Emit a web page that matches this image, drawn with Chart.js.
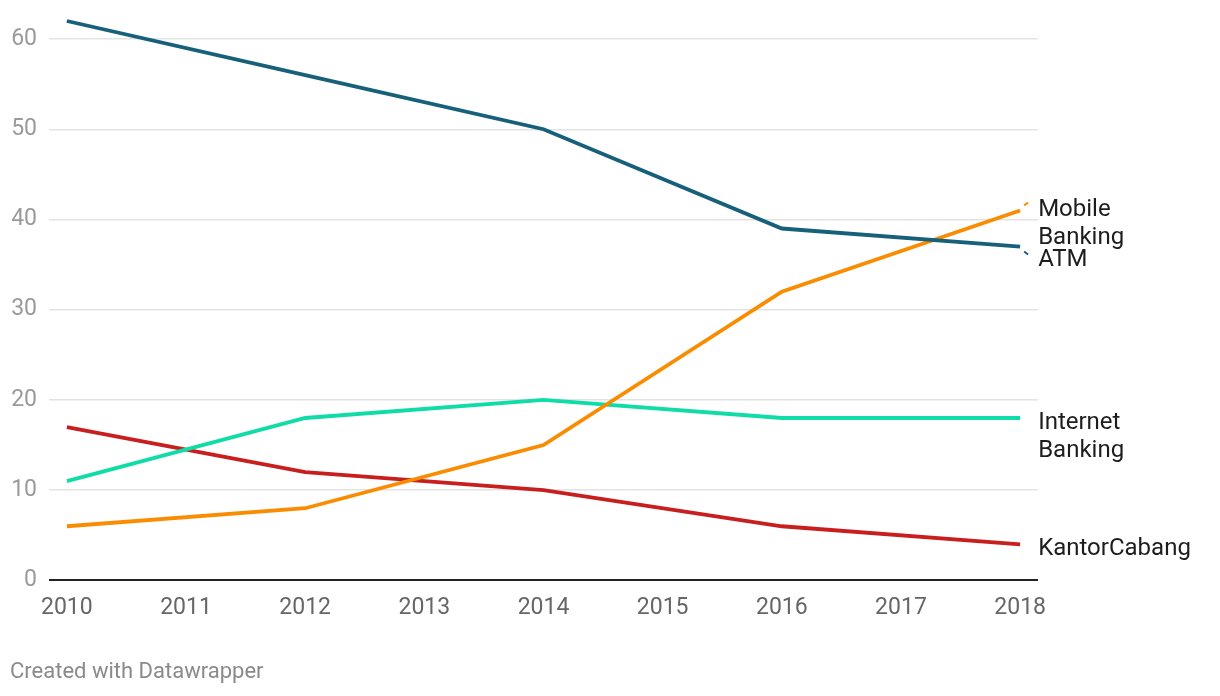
<!DOCTYPE html>
<html>
<head>
<meta charset="utf-8">
<script src="https://cdn.jsdelivr.net/npm/chart.js@4"></script>
<style>
  html, body { margin: 0; padding: 0; background: #fff; }
  #wrap { position: relative; width: 1220px; height: 696px; }
  #footer { position: absolute; left: 10px; top: 658px; font: 22px Roboto, sans-serif; color: #8a8a8a; }
</style>
</head>
<body>
<div id="wrap">
  <canvas id="lineChart" width="1220" height="696"></canvas>
  <div id="footer">Created with Datawrapper</div>
</div>
<script>
// Data
const years = [2010, 2012, 2014, 2016, 2018];
const yearTicks = [2010, 2011, 2012, 2013, 2014, 2015, 2016, 2017, 2018];
const yTicks = [0, 10, 20, 30, 40, 50, 60];
const atm = [62, 56, 50, 39, 37];
const mobileBanking = [6, 8, 15, 32, 41];
const internetBanking = [11, 18, 20, 18, 18];
const kantorCabang = [17, 12, 10, 6, 4];

const seriesNames = ['ATM', 'Mobile Banking', 'Internet Banking', 'KantorCabang'];
const seriesColors = ['#17607a', '#f98c00', '#0fdca6', '#c81e1e'];
const seriesLabelLines = [['ATM'], ['Mobile', 'Banking'], ['Internet', 'Banking'], ['KantorCabang']];

function toPoints(values) {
  return values.map((v, i) => ({ x: years[i], y: v }));
}

// Labels at the right end of each line
const endLabels = {
  id: 'endLabels',
  afterDatasetsDraw(chart) {
    const ctx = chart.ctx;
    const xScale = chart.scales.x;
    const yScale = chart.scales.y;
    const offsets = [13, 0, 5, 5];
    ctx.save();
    ctx.font = '24px Roboto, sans-serif';
    ctx.fillStyle = '#1d1d1d';
    ctx.textBaseline = 'middle';
    ctx.textAlign = 'left';
    chart.data.datasets.forEach((ds, i) => {
      const last = ds.data[ds.data.length - 1];
      const yPix = yScale.getPixelForValue(last.y) + offsets[i];
      const xPix = xScale.getPixelForValue(last.x) + 18;
      seriesLabelLines[i].forEach((line, j) => {
        ctx.fillText(line, xPix, yPix + j * 28);
      });
    });
    // little connector ticks for the two labels that got pushed apart
    ctx.lineWidth = 2;
    const endX = xScale.getPixelForValue(2018);
    ctx.strokeStyle = seriesColors[1];
    ctx.beginPath();
    ctx.moveTo(endX + 4, yScale.getPixelForValue(41) - 5);
    ctx.lineTo(endX + 8, yScale.getPixelForValue(41) - 8);
    ctx.stroke();
    ctx.strokeStyle = seriesColors[0];
    ctx.beginPath();
    ctx.moveTo(endX + 4, yScale.getPixelForValue(37) + 5);
    ctx.lineTo(endX + 8, yScale.getPixelForValue(37) + 8);
    ctx.stroke();
    ctx.restore();
  }
};

new Chart(document.getElementById('lineChart'), {
  type: 'line',
  data: {
    datasets: [atm, mobileBanking, internetBanking, kantorCabang].map((values, i) => ({
      label: seriesNames[i],
      data: toPoints(values),
      borderColor: seriesColors[i],
      backgroundColor: seriesColors[i],
      borderWidth: 3.8,
      pointRadius: 0,
      tension: 0,
      clip: false
    }))
  },
  options: {
    responsive: false,
    animation: false,
    layout: { padding: { left: 12, right: 182, top: 21, bottom: 68 } },
    plugins: { legend: { display: false }, tooltip: { enabled: false } },
    scales: {
      x: {
        type: 'linear',
        min: 2009.85,
        max: 2018.15,
        afterBuildTicks: scale => { scale.ticks = yearTicks.map(v => ({ value: v })); },
        afterFit: scale => { scale.paddingLeft = 0; scale.paddingRight = 0; },
        grid: { display: false },
        border: { display: false },
        ticks: {
          color: '#666',
          font: { family: 'Roboto', size: 23 },
          padding: 6,
          maxRotation: 0,
          autoSkip: false,
          callback: v => String(v)
        }
      },
      y: {
        min: 0,
        max: 62,
        afterBuildTicks: scale => { scale.ticks = yTicks.map(v => ({ value: v })); },
        afterFit: scale => { scale.width = 37; scale.paddingTop = 0; scale.paddingBottom = 0; },
        border: { display: false },
        grid: {
          drawTicks: false,
          color: c => c.tick.value === 0 ? '#222' : '#e3e3e3',
          lineWidth: c => c.tick.value === 0 ? 2 : 1.5
        },
        ticks: {
          color: '#9a9a9a',
          font: { family: 'Roboto', size: 23 },
          padding: 12
        }
      }
    }
  },
  plugins: [endLabels]
});
</script>
</body>
</html>
